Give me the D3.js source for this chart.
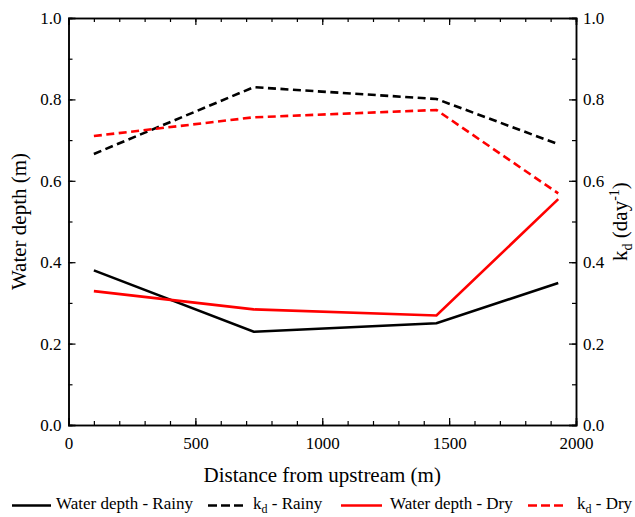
<!DOCTYPE html>
<html>
<head>
<meta charset="utf-8">
<script src="https://cdn.jsdelivr.net/npm/d3@7"></script>
<style>
  body { margin: 0; background: #fff; }
  svg, svg text { font-family: "Liberation Serif", "Times New Roman", Times, "DejaVu Serif", serif; }
</style>
</head>
<body>
<div id="chart"></div>
<script>
// Data
const distance = [100, 730, 1450, 1930];
const depthRainy = [0.38, 0.229, 0.25, 0.349];
const depthDry = [0.329, 0.284, 0.269, 0.555];
const kdRainy = [0.666, 0.83, 0.801, 0.69];
const kdDry = [0.71, 0.756, 0.774, 0.569];
const xTicks = [0, 500, 1000, 1500, 2000];
const yTicks = [0, 0.2, 0.4, 0.6, 0.8, 1.0];

const FONT = '"Liberation Serif", "Times New Roman", Times, serif';
const WIDTH = 635;
const HEIGHT = 517;
const MARGIN = { top: 18, right: 59, bottom: 92, left: 68.5 };
const innerW = WIDTH - MARGIN.left - MARGIN.right;
const innerH = HEIGHT - MARGIN.top - MARGIN.bottom;

const series = [
  { label: 'Water depth - Rainy', values: depthRainy, color: '#000', dash: null },
  { label: 'kd - Rainy', values: kdRainy, color: '#000', dash: '8,4.5', kd: true },
  { label: 'Water depth - Dry', values: depthDry, color: '#ff0000', dash: null },
  { label: 'kd - Dry', values: kdDry, color: '#ff0000', dash: '8,4.5', kd: true }
];

const svg = d3.select('#chart').append('svg')
  .attr('width', WIDTH)
  .attr('height', HEIGHT)
  .attr('font-family', FONT);

const g = svg.append('g').attr('transform', `translate(${MARGIN.left},${MARGIN.top})`);

const x = d3.scaleLinear().domain([0, 2000]).range([0, innerW]);
const yL = d3.scaleLinear().domain([0, 1]).range([innerH, 0]);
const yR = d3.scaleLinear().domain([0, 1]).range([innerH, 0]);

const fmt = d3.format('.1f');
const xMinor = d3.range(0, 2001, 100);
const yMinor = d3.range(0, 1.0001, 0.1);

function styleAxis(sel) {
  sel.attr('font-family', FONT);
  sel.select('.domain').attr('stroke', '#000').attr('stroke-width', 1.5);
  sel.selectAll('.tick line').attr('stroke', '#000').attr('stroke-width', 1.2);
  sel.selectAll('text').attr('font-size', '17px').attr('fill', '#000');
}

// minor ticks (inward)
g.append('g').attr('transform', `translate(0,${innerH})`)
  .call(d3.axisBottom(x).tickValues(xMinor).tickSize(-4).tickFormat(''))
  .call(styleAxis);
g.append('g')
  .call(d3.axisTop(x).tickValues(xMinor).tickSize(-4).tickFormat(''))
  .call(styleAxis);
g.append('g')
  .call(d3.axisLeft(yL).tickValues(yMinor).tickSize(-4).tickFormat(''))
  .call(styleAxis);
g.append('g').attr('transform', `translate(${innerW},0)`)
  .call(d3.axisRight(yR).tickValues(yMinor).tickSize(-4).tickFormat(''))
  .call(styleAxis);

// major ticks
g.append('g').attr('transform', `translate(0,${innerH})`)
  .call(d3.axisBottom(x).tickValues(xTicks).tickSize(-7).tickPadding(12).tickFormat(d3.format('d')))
  .call(styleAxis);
g.append('g')
  .call(d3.axisTop(x).tickValues(xTicks).tickSize(-7).tickFormat(''))
  .call(styleAxis);
g.append('g')
  .call(d3.axisLeft(yL).tickValues(yTicks).tickSize(-7).tickPadding(7).tickFormat(fmt))
  .call(styleAxis);
g.append('g').attr('transform', `translate(${innerW},0)`)
  .call(d3.axisRight(yR).tickValues(yTicks).tickSize(-7).tickPadding(7).tickFormat(fmt))
  .call(styleAxis);

// lines
const line = (scale) => d3.line()
  .x((d, i) => x(distance[i]))
  .y((d) => scale(d));

for (const s of series) {
  g.append('path')
    .datum(s.values)
    .attr('d', line(s.kd ? yR : yL))
    .attr('fill', 'none')
    .attr('stroke', s.color)
    .attr('stroke-width', 2.6)
    .attr('stroke-dasharray', s.dash);
}

// axis titles
svg.append('text')
  .attr('x', MARGIN.left + innerW / 2)
  .attr('y', 482)
  .attr('text-anchor', 'middle')
  .attr('font-size', '21px')
  .text('Distance from upstream (m)');

svg.append('text')
  .attr('transform', `translate(26,${MARGIN.top + innerH / 2}) rotate(-90)`)
  .attr('text-anchor', 'middle')
  .attr('font-size', '21px')
  .text('Water depth (m)');

const rt = svg.append('text')
  .attr('transform', `translate(627,${MARGIN.top + innerH / 2}) rotate(-90)`)
  .attr('text-anchor', 'middle')
  .attr('font-size', '21px');
rt.append('tspan').text('k');
rt.append('tspan').attr('font-size', '14px').attr('dy', 5).text('d');
rt.append('tspan').attr('dy', -5).text(' (day');
rt.append('tspan').attr('font-size', '14px').attr('dy', -8).text('-1');
rt.append('tspan').attr('dy', 8).text(')');

// legend
const legendItems = [
  { s: series[0], x0: 12, x1: 51, tx: 56 },
  { s: series[1], x0: 208, x1: 244, tx: 253 },
  { s: series[2], x0: 341, x1: 382, tx: 390 },
  { s: series[3], x0: 528, x1: 564, tx: 577 }
];
const ly = 505.5;
for (const item of legendItems) {
  svg.append('line')
    .attr('x1', item.x0).attr('x2', item.x1)
    .attr('y1', ly).attr('y2', ly)
    .attr('stroke', item.s.color)
    .attr('stroke-width', 2.6)
    .attr('stroke-dasharray', item.s.dash ? '9,4' : null);
  const t = svg.append('text')
    .attr('x', item.tx).attr('y', ly + 3)
    .attr('font-size', '17px');
  if (item.s.kd) {
    const season = item.s.label.split(' - ')[1];
    t.append('tspan').text('k');
    t.append('tspan').attr('font-size', '12px').attr('dy', 4).text('d');
    t.append('tspan').attr('dy', -4).text(' - ' + season);
  } else {
    t.text(item.s.label);
  }
}
</script>
</body>
</html>
